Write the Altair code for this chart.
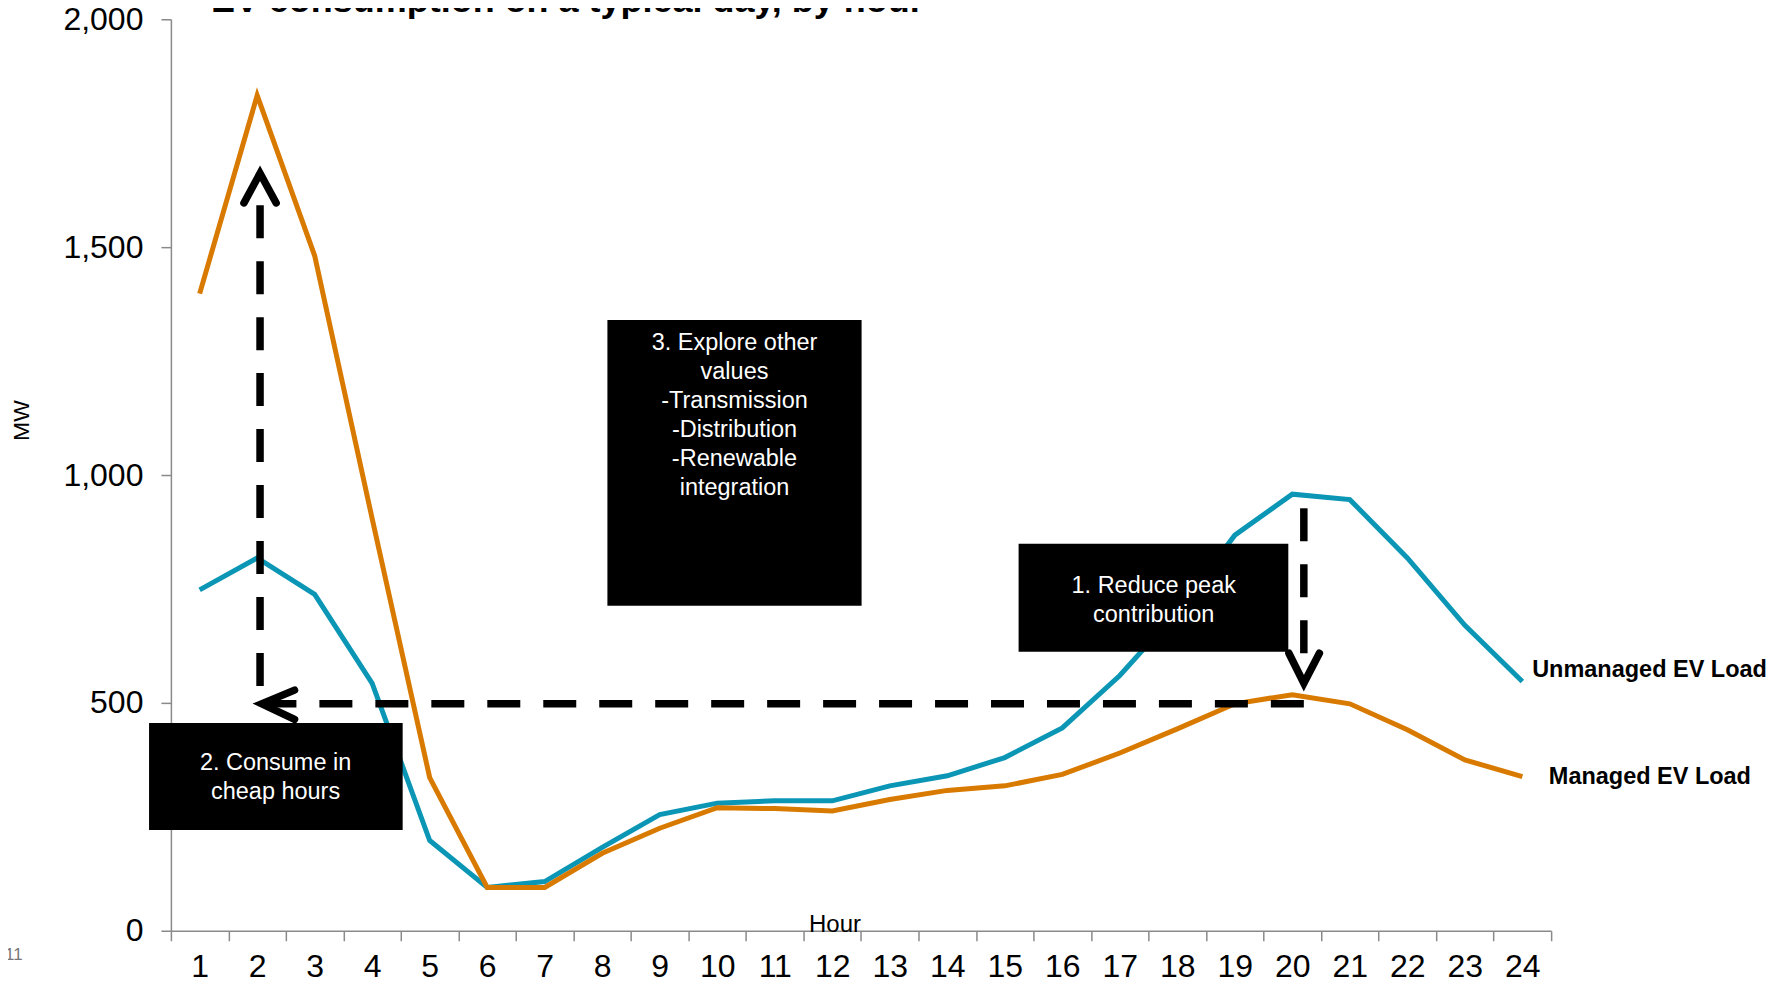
import altair as alt
import pandas as pd

# ---------------- data ----------------
hours = list(range(1, 25))
unmanaged = [748, 818, 738, 543, 198, 95, 108, 183, 255, 280, 285, 285,
             318, 340, 380, 445, 560, 700, 868, 958, 946, 818, 670, 547]
managed = [1398, 1833, 1481, 904, 336, 95, 95, 170, 225, 270, 268, 263,
           288, 308, 318, 343, 390, 443, 498, 518, 498, 441, 375, 338]
series_names = ["Unmanaged EV Load", "Managed EV Load"]
series_colors = ["#0A96B4", "#D97A00"]

# end-of-line labels (hour, MW)
label_hour = [24.17, 24.46]
label_mw = [572, 338]

# annotation boxes: hour range, MW range, first-line anchor, text
box_names = ["cheap", "peak", "other"]
box_x1 = [0.12, 15.24, 8.09]
box_x2 = [4.53, 19.93, 12.51]
box_y1 = [221, 612, 713]
box_y2 = [456, 849, 1340]
box_tx = [2.32, 17.59, 10.30]
box_ty = [368, 757, 1289]
box_text = ["2. Consume in\ncheap hours",
            "1. Reduce peak\ncontribution",
            "3. Explore other\nvalues\n-Transmission\n-Distribution\n-Renewable\nintegration"]

# dashed arrow shafts (start -> end)
shaft_id = ["up", "up", "left", "left", "down", "down"]
shaft_order = [0, 1, 0, 1, 0, 1]
shaft_hour = [2.05, 2.05, 20.2, 2.1, 20.2, 20.2]
shaft_mw = [1592, 500, 498, 498, 927, 605]

# arrow heads (arm, tip, arm)
head_id = ["up"] * 3 + ["left"] * 3 + ["down"] * 3
head_order = [0, 1, 2] * 3
head_hour = [1.77, 2.05, 2.33, 2.65, 2.08, 2.65, 19.94, 20.2, 20.47]
head_mw = [1597, 1662, 1597, 528, 498, 464, 609, 543, 609]

title_text = ["EV consumption on a typical day, by hour"]
page_number = ["11"]

# ---------------- tables ----------------
lines_df = pd.DataFrame({
    "hour": hours * 2,
    "MW": unmanaged + managed,
    "series": [series_names[0]] * 24 + [series_names[1]] * 24,
})
hours_df = pd.DataFrame({"hour": hours, "MW": unmanaged})
labels_df = pd.DataFrame({"hour": label_hour, "MW": label_mw, "series": series_names})
boxes_df = pd.DataFrame({"name": box_names, "x1": box_x1, "x2": box_x2,
                         "y1": box_y1, "y2": box_y2, "tx": box_tx, "ty": box_ty,
                         "text": box_text})
shafts_df = pd.DataFrame({"id": shaft_id, "o": shaft_order, "hour": shaft_hour, "MW": shaft_mw})
heads_df = pd.DataFrame({"id": head_id, "o": head_order, "hour": head_hour, "MW": head_mw})
title_df = pd.DataFrame({"t": title_text})
page_df = pd.DataFrame({"t": page_number})

SANS = "Liberation Sans, Arial, sans-serif"
GREY = "#8a8a8a"

W, H = 1381, 912

x_scale = alt.Scale(domain=[0.5, 24.5], nice=False, zero=False)
y_scale = alt.Scale(domain=[0, 2000], nice=False)

x_axis = alt.Axis(
    tickBand="extent",
    labelAngle=0,
    labelFont=SANS,
    labelFontSize=32,
    labelColor="black",
    labelPadding=11,
    tickSize=10,
    tickColor=GREY,
    tickWidth=1.5,
    domainColor=GREY,
    domainWidth=1.5,
    grid=False,
    title="Hour",
    titleFont=SANS,
    titleFontSize=24,
    titleFontWeight="normal",
    titleColor="black",
    titleX=664,
    titleY=1,
    titleBaseline="alphabetic",
    titleAlign="center",
)
y_axis = alt.Axis(
    values=[0, 500, 1000, 1500, 2000],
    format=",d",
    labelFont=SANS,
    labelFontSize=32,
    labelColor="black",
    labelPadding=18,
    tickSize=10,
    tickColor=GREY,
    tickWidth=1.5,
    domainColor=GREY,
    domainWidth=1.5,
    grid=False,
    title="MW",
    titleFont=SANS,
    titleFontSize=23,
    titleFontWeight="normal",
    titleColor="black",
    titleAngle=270,
    titleX=-149,
    titleY=401,
    titleAlign="center",
    titleBaseline="middle",
)

color_scale = alt.Scale(domain=series_names, range=series_colors)


def X(field):
    return alt.X(field, type="quantitative", scale=x_scale, axis=None)


def Y(field, axis=None):
    if axis is None:
        return alt.Y(field, type="quantitative", scale=y_scale)
    return alt.Y(field, type="quantitative", scale=y_scale, axis=axis)


# invisible layer carrying the hour axis (band scale, ticks at band edges)
hour_axis = alt.Chart(hours_df).mark_point(opacity=0).encode(
    x=alt.X("hour:O", scale=alt.Scale(type="band", paddingInner=0, paddingOuter=0), axis=x_axis),
    y=Y("MW", y_axis),
)

lines = alt.Chart(lines_df).mark_line(strokeWidth=5, strokeJoin="miter").encode(
    x=X("hour"),
    y=Y("MW"),
    color=alt.Color("series:N", scale=color_scale, legend=None),
    detail="series:N",
)

box_under = alt.Chart(boxes_df).transform_filter("datum.name === 'cheap'").mark_rect(color="black").encode(
    x=X("x1"), x2="x2", y=Y("y1"), y2="y2")

box_over = alt.Chart(boxes_df).transform_filter("datum.name !== 'cheap'").mark_rect(color="black").encode(
    x=X("x1"), x2="x2", y=Y("y1"), y2="y2")

box_txt = alt.Chart(boxes_df).mark_text(
    color="white", font=SANS, fontSize=23.5, align="center", baseline="middle",
    lineBreak="\n", lineHeight=29).encode(
    x=X("tx"), y=Y("ty"), text="text:N")

line_labels = alt.Chart(labels_df).mark_text(
    color="black", font=SANS, fontSize=23.5, fontWeight="bold", align="left", baseline="middle").encode(
    x=X("hour"), y=Y("MW"), text="series:N")

shafts = alt.Chart(shafts_df).mark_line(
    color="black", strokeWidth=7.5, strokeDash=[33, 23], strokeCap="butt").encode(
    x=X("hour"), y=Y("MW"), detail="id:N", order="o:Q")

heads = alt.Chart(heads_df).mark_line(
    color="black", strokeWidth=7.5, strokeCap="round", strokeJoin="miter").encode(
    x=X("hour"), y=Y("MW"), detail="id:N", order="o:Q")

title = alt.Chart(title_df).mark_text(
    font=SANS, fontSize=36, fontWeight="bold", color="black", align="left", baseline="alphabetic").encode(
    x=alt.value(40), y=alt.value(-7), text="t:N")

page = alt.Chart(page_df).mark_text(
    font=SANS, fontSize=17, color="#777777", align="left", baseline="alphabetic").encode(
    x=alt.value(-166), y=alt.value(941), text="t:N")

chart = alt.layer(
    hour_axis, lines, box_under, box_over, box_txt, line_labels, shafts, heads, title, page
).resolve_scale(
    x="independent"
).properties(
    width=W, height=H,
    autosize=alt.AutoSizeParams(type="none"),
    padding={"left": 163, "top": 11, "right": 230, "bottom": 55},
    background="white",
).configure_view(stroke=None)

chart.save("out.html", embed_options={"renderer": "svg", "actions": False})
